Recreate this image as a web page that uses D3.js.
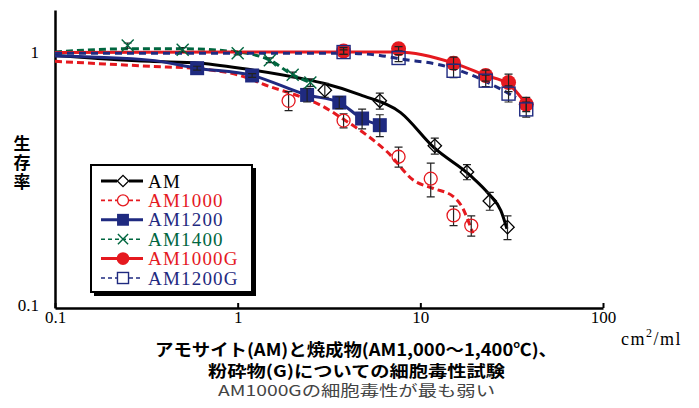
<!DOCTYPE html>
<html>
<head>
<meta charset="utf-8">
<script src="https://cdn.jsdelivr.net/npm/d3@7"></script>
<style>
  body { margin: 0; background: #fff; }
  #chart { width: 699px; height: 408px; }
  .serif { font-family: "Liberation Serif", "Times New Roman", serif; }
  .jp { font-family: "Noto Sans CJK JP", sans-serif; }
</style>
</head>
<body>
<div id="chart"></div>
<script>
// values (x in cm2/ml, y = survival ratio)
let xAM = [3, 6, 12, 18, 24, 30];
let yAM = [0.71, 0.645, 0.43, 0.34, 0.262, 0.207];
let eAM = [0.044, 0.046, 0.031, 0.023, 0.021, 0.022];
let curveAMx = [0.1, 0.33, 0.62, 1.22, 2.2, 2.95, 4.7, 7.8, 11.8, 18.9, 23.7, 27.6, 29.8];
let curveAMy = [0.97, 0.92, 0.905, 0.85, 0.79, 0.755, 0.68, 0.58, 0.425, 0.328, 0.279, 0.24, 0.204];

let xAM1000 = [1.9, 3.8, 7.6, 11.4, 15.2, 19];
let yAM1000 = [0.645, 0.54, 0.39, 0.32, 0.23, 0.21];
let eAM1000 = [0.055, 0.034, 0.035, 0.048, 0.02, 0.019];
let curveAM1000x = [0.1, 0.33, 0.62, 1.03, 1.5, 2.2, 2.85, 3.8, 5.0, 6.6, 9.2, 11.8, 15.1, 17.1, 18.2, 19.4];
let curveAM1000y = [0.92, 0.88, 0.86, 0.81, 0.733, 0.67, 0.62, 0.546, 0.478, 0.407, 0.315, 0.293, 0.273, 0.245, 0.221, 0.196];

let xAM1200 = [0.6, 1.2, 2.4, 3.6, 4.8, 6.0];
let yAM1200 = [0.865, 0.81, 0.68, 0.635, 0.55, 0.518];
let eAM1200 = [0.015, 0.014, 0.042, 0.034, 0.049, 0.051];
let curveAM1200x = [0.1, 0.33, 0.6, 1.2, 2.4, 3.6, 4.8, 6.0];
let curveAM1200y = [0.965, 0.93, 0.865, 0.81, 0.68, 0.635, 0.55, 0.518];

let xAM1400 = [0.25, 0.5, 1, 1.5, 2, 2.5];
let yAM1400 = [1.06, 1.02, 0.99, 0.93, 0.815, 0.76];
let eAM1400 = [0.025, 0.02, 0.015, 0.02, 0.02, 0.025];
let curveAM1400x = [0.1, 0.25, 0.5, 1, 1.5, 2, 2.5];
let curveAM1400y = [1.0, 1.03, 1.03, 1.0, 0.93, 0.815, 0.76];

let xG = [3.8, 7.6, 15.2, 22.8, 30.4, 38];
let yAM1000G = [1.01, 1.03, 0.905, 0.81, 0.76, 0.625];
let eAM1000G = [0.03, 0.02, 0.05, 0.04, 0.06, 0.04];
let curveAM1000Gx = [0.1, 1, 3.8, 7.6, 15.2, 22.8, 30.4, 38];
let curveAM1000Gy = [0.995, 1.0, 1.0, 1.0, 0.905, 0.81, 0.75, 0.625];

let yAM1200G = [1.0, 0.948, 0.845, 0.773, 0.688, 0.597];
let eAM1200G = [0.02, 0.03, 0.05, 0.04, 0.05, 0.04];
let curveAM1200Gx = [0.1, 1, 3.8, 6, 7.8, 12.9, 18.9, 25.9, 33.4];
let curveAM1200Gy = [0.99, 0.99, 0.99, 0.97, 0.94, 0.89, 0.815, 0.733, 0.664];

let xTicks = [0.1, 1, 10, 100];
let yTicks = [0.1, 1];

let RED = "#e5191f", NAVY = "#1f2a80", GREEN = "#00663f", BLACK = "#000";

let series = [
    { name: "AM", color: BLACK, dash: null, marker: "diamond", x: xAM, y: yAM, e: eAM, cx: curveAMx, cy: curveAMy },
    { name: "AM1000", color: RED, dash: "7,4", marker: "circle", x: xAM1000, y: yAM1000, e: eAM1000, cx: curveAM1000x, cy: curveAM1000y },
    { name: "AM1200", color: NAVY, dash: null, marker: "square", x: xAM1200, y: yAM1200, e: eAM1200, cx: curveAM1200x, cy: curveAM1200y },
    { name: "AM1400", color: GREEN, dash: "7,4", marker: "cross", x: xAM1400, y: yAM1400, e: eAM1400, cx: curveAM1400x, cy: curveAM1400y },
    { name: "AM1000G", color: RED, dash: null, marker: "dot", x: xG, y: yAM1000G, e: eAM1000G, cx: curveAM1000Gx, cy: curveAM1000Gy },
    { name: "AM1200G", color: NAVY, dash: "7,5", marker: "box", x: xG, y: yAM1200G, e: eAM1200G, cx: curveAM1200Gx, cy: curveAM1200Gy }
];

let svg = d3.select("#chart")
    .append("svg")
    .attr("width", 699)
    .attr("height", 408);

let x = d3.scaleLog().domain([0.1, 100]).range([55, 603]);
let y = d3.scaleLog().domain([0.1, 1.46]).range([308, 10]);

// axes
let xAxis = svg.append("g")
    .attr("class", "serif")
    .attr("transform", "translate(0,308)")
    .call(d3.axisBottom(x).tickValues(xTicks).tickFormat(d3.format("")).tickSize(-5).tickSizeOuter(0));
xAxis.select(".domain").attr("stroke-width", 2.5);
xAxis.selectAll(".tick line").attr("stroke-width", 2);
xAxis.selectAll(".tick text").attr("font-size", 17).attr("font-family", "Liberation Serif").attr("fill", "#000");

let yAxis = svg.append("g")
    .attr("transform", "translate(55,0)")
    .call(d3.axisLeft(y).tickValues(yTicks).tickFormat(d3.format("")).tickSize(0).tickSizeOuter(0).tickPadding(16));
yAxis.select(".domain").attr("stroke-width", 2.5);
yAxis.selectAll(".tick text").attr("font-size", 17).attr("font-family", "Liberation Serif").attr("fill", "#000")
    .attr("dy", function (d) { return d === 0.1 ? "0.15em" : "0.32em"; });

// curves
let line = d3.line()
    .x(function (d) { return x(d[0]); })
    .y(function (d) { return y(d[1]); })
    .curve(d3.curveMonotoneX);

series.forEach(function (s) {
    svg.append("path")
        .datum(d3.zip(s.cx, s.cy))
        .attr("fill", "none")
        .attr("stroke", s.color)
        .attr("stroke-width", 3)
        .attr("stroke-dasharray", s.dash)
        .attr("d", line);
});

function drawMarker(g, type, color, scale) {
    let k = scale || 1;
    if (type === "diamond") {
        g.append("path").attr("d", d3.symbol(d3.symbolSquare, 90 * k * k)())
            .attr("transform", "rotate(45)")
            .attr("fill", "none").attr("stroke", color).attr("stroke-width", 1.3);
    } else if (type === "circle") {
        g.append("circle").attr("r", 6.5 * k).attr("fill", "none").attr("stroke", color).attr("stroke-width", 1.3);
    } else if (type === "square") {
        g.append("rect").attr("x", -7 * k).attr("y", -7 * k).attr("width", 14 * k).attr("height", 14 * k).attr("fill", color);
    } else if (type === "cross") {
        g.append("path").attr("d", "M" + (-6 * k) + "," + (-6 * k) + "L" + (6 * k) + "," + (6 * k) + "M" + (6 * k) + "," + (-6 * k) + "L" + (-6 * k) + "," + (6 * k))
            .attr("stroke", color).attr("stroke-width", 1.4);
    } else if (type === "dot") {
        g.append("circle").attr("r", 7.5 * k).attr("fill", color);
    } else if (type === "box") {
        g.append("rect").attr("x", -6.5 * k).attr("y", -6.5 * k).attr("width", 13 * k).attr("height", 13 * k)
            .attr("fill", "none").attr("stroke", color).attr("stroke-width", 1.4);
    }
}

// markers + error bars
series.forEach(function (s) {
    let pts = d3.zip(s.x, s.y, s.e);
    let g = svg.append("g");
    let pt = g.selectAll("g.pt")
        .data(pts)
        .enter()
        .append("g")
        .attr("class", "pt")
        .attr("transform", function (d) { return "translate(" + x(d[0]) + "," + y(d[1]) + ")"; });
    pt.each(function (d) {
        let sel = d3.select(this);
        if (s.marker === "square" || s.marker === "dot") drawMarker(sel, s.marker, s.color);
        let top = y(d[1] + d[2]) - y(d[1]);
        let bot = y(d[1] - d[2]) - y(d[1]);
        sel.append("path")
            .attr("d", "M0," + top + "V" + bot + "M-4," + top + "H4M-4," + bot + "H4")
            .attr("stroke", "#222")
            .attr("stroke-width", 1.2)
            .attr("fill", "none");
        if (!(s.marker === "square" || s.marker === "dot")) drawMarker(sel, s.marker, s.color);
    });
});

// legend
let lg = svg.append("g");
lg.append("rect").attr("x", 94).attr("y", 168).attr("width", 162).attr("height", 128).attr("fill", "#000");
lg.append("rect").attr("x", 91).attr("y", 165).attr("width", 161).attr("height", 127)
    .attr("fill", "#fff").attr("stroke", "#000").attr("stroke-width", 2);

series.forEach(function (s, i) {
    let ly = 181 + i * 19.4;
    lg.append("line")
        .attr("x1", 101).attr("x2", 143).attr("y1", ly).attr("y2", ly)
        .attr("stroke", s.color)
        .attr("stroke-width", s.dash ? 1.6 : 3)
        .attr("stroke-dasharray", s.dash ? "4,3" : null);
    let mg = lg.append("g").attr("transform", "translate(123," + ly + ")");
    if (s.marker === "circle" || s.marker === "box" || s.marker === "diamond") {
        mg.append("rect").attr("x", -6).attr("y", -6).attr("width", 12).attr("height", 12).attr("fill", "#fff");
    }
    drawMarker(mg, s.marker, s.color, 0.85);
    lg.append("text")
        .attr("class", "serif")
        .attr("x", 148).attr("y", ly + 6.5)
        .attr("font-size", 19)
        .attr("letter-spacing", 1.2)
        .attr("fill", s.color === BLACK ? "#000" : s.color)
        .text(s.name);
});

// axis titles
svg.append("text")
    .attr("class", "jp")
    .attr("x", 22)
    .attr("y", 135)
    .attr("font-size", 17)
    .attr("font-weight", "bold")
    .attr("letter-spacing", 2)
    .style("writing-mode", "vertical-rl")
    .text("生存率");

let unit = svg.append("text")
    .attr("class", "serif")
    .attr("x", 621).attr("y", 345)
    .attr("font-size", 18)
    .attr("letter-spacing", 1.5);
unit.append("tspan").text("cm");
unit.append("tspan").attr("font-size", 12).attr("dy", -8).text("2");
unit.append("tspan").attr("dy", 8).text("/ml");

// caption
svg.append("text").attr("class", "jp")
    .attr("x", 356).attr("y", 356)
    .attr("text-anchor", "middle").attr("font-size", 17).attr("font-weight", "bold")
    .attr("textLength", 402).attr("lengthAdjust", "spacingAndGlyphs")
    .text("アモサイト(AM)と焼成物(AM1,000〜1,400℃)、");
svg.append("text").attr("class", "jp")
    .attr("x", 356.5).attr("y", 377)
    .attr("text-anchor", "middle").attr("font-size", 16).attr("font-weight", "bold")
    .attr("textLength", 297).attr("lengthAdjust", "spacingAndGlyphs")
    .text("粉砕物(G)についての細胞毒性試験");
svg.append("text").attr("class", "jp")
    .attr("x", 356.5).attr("y", 396)
    .attr("text-anchor", "middle").attr("font-size", 15).attr("fill", "#444")
    .attr("textLength", 277).attr("lengthAdjust", "spacingAndGlyphs")
    .text("AM1000Gの細胞毒性が最も弱い");
</script>
</body>
</html>
